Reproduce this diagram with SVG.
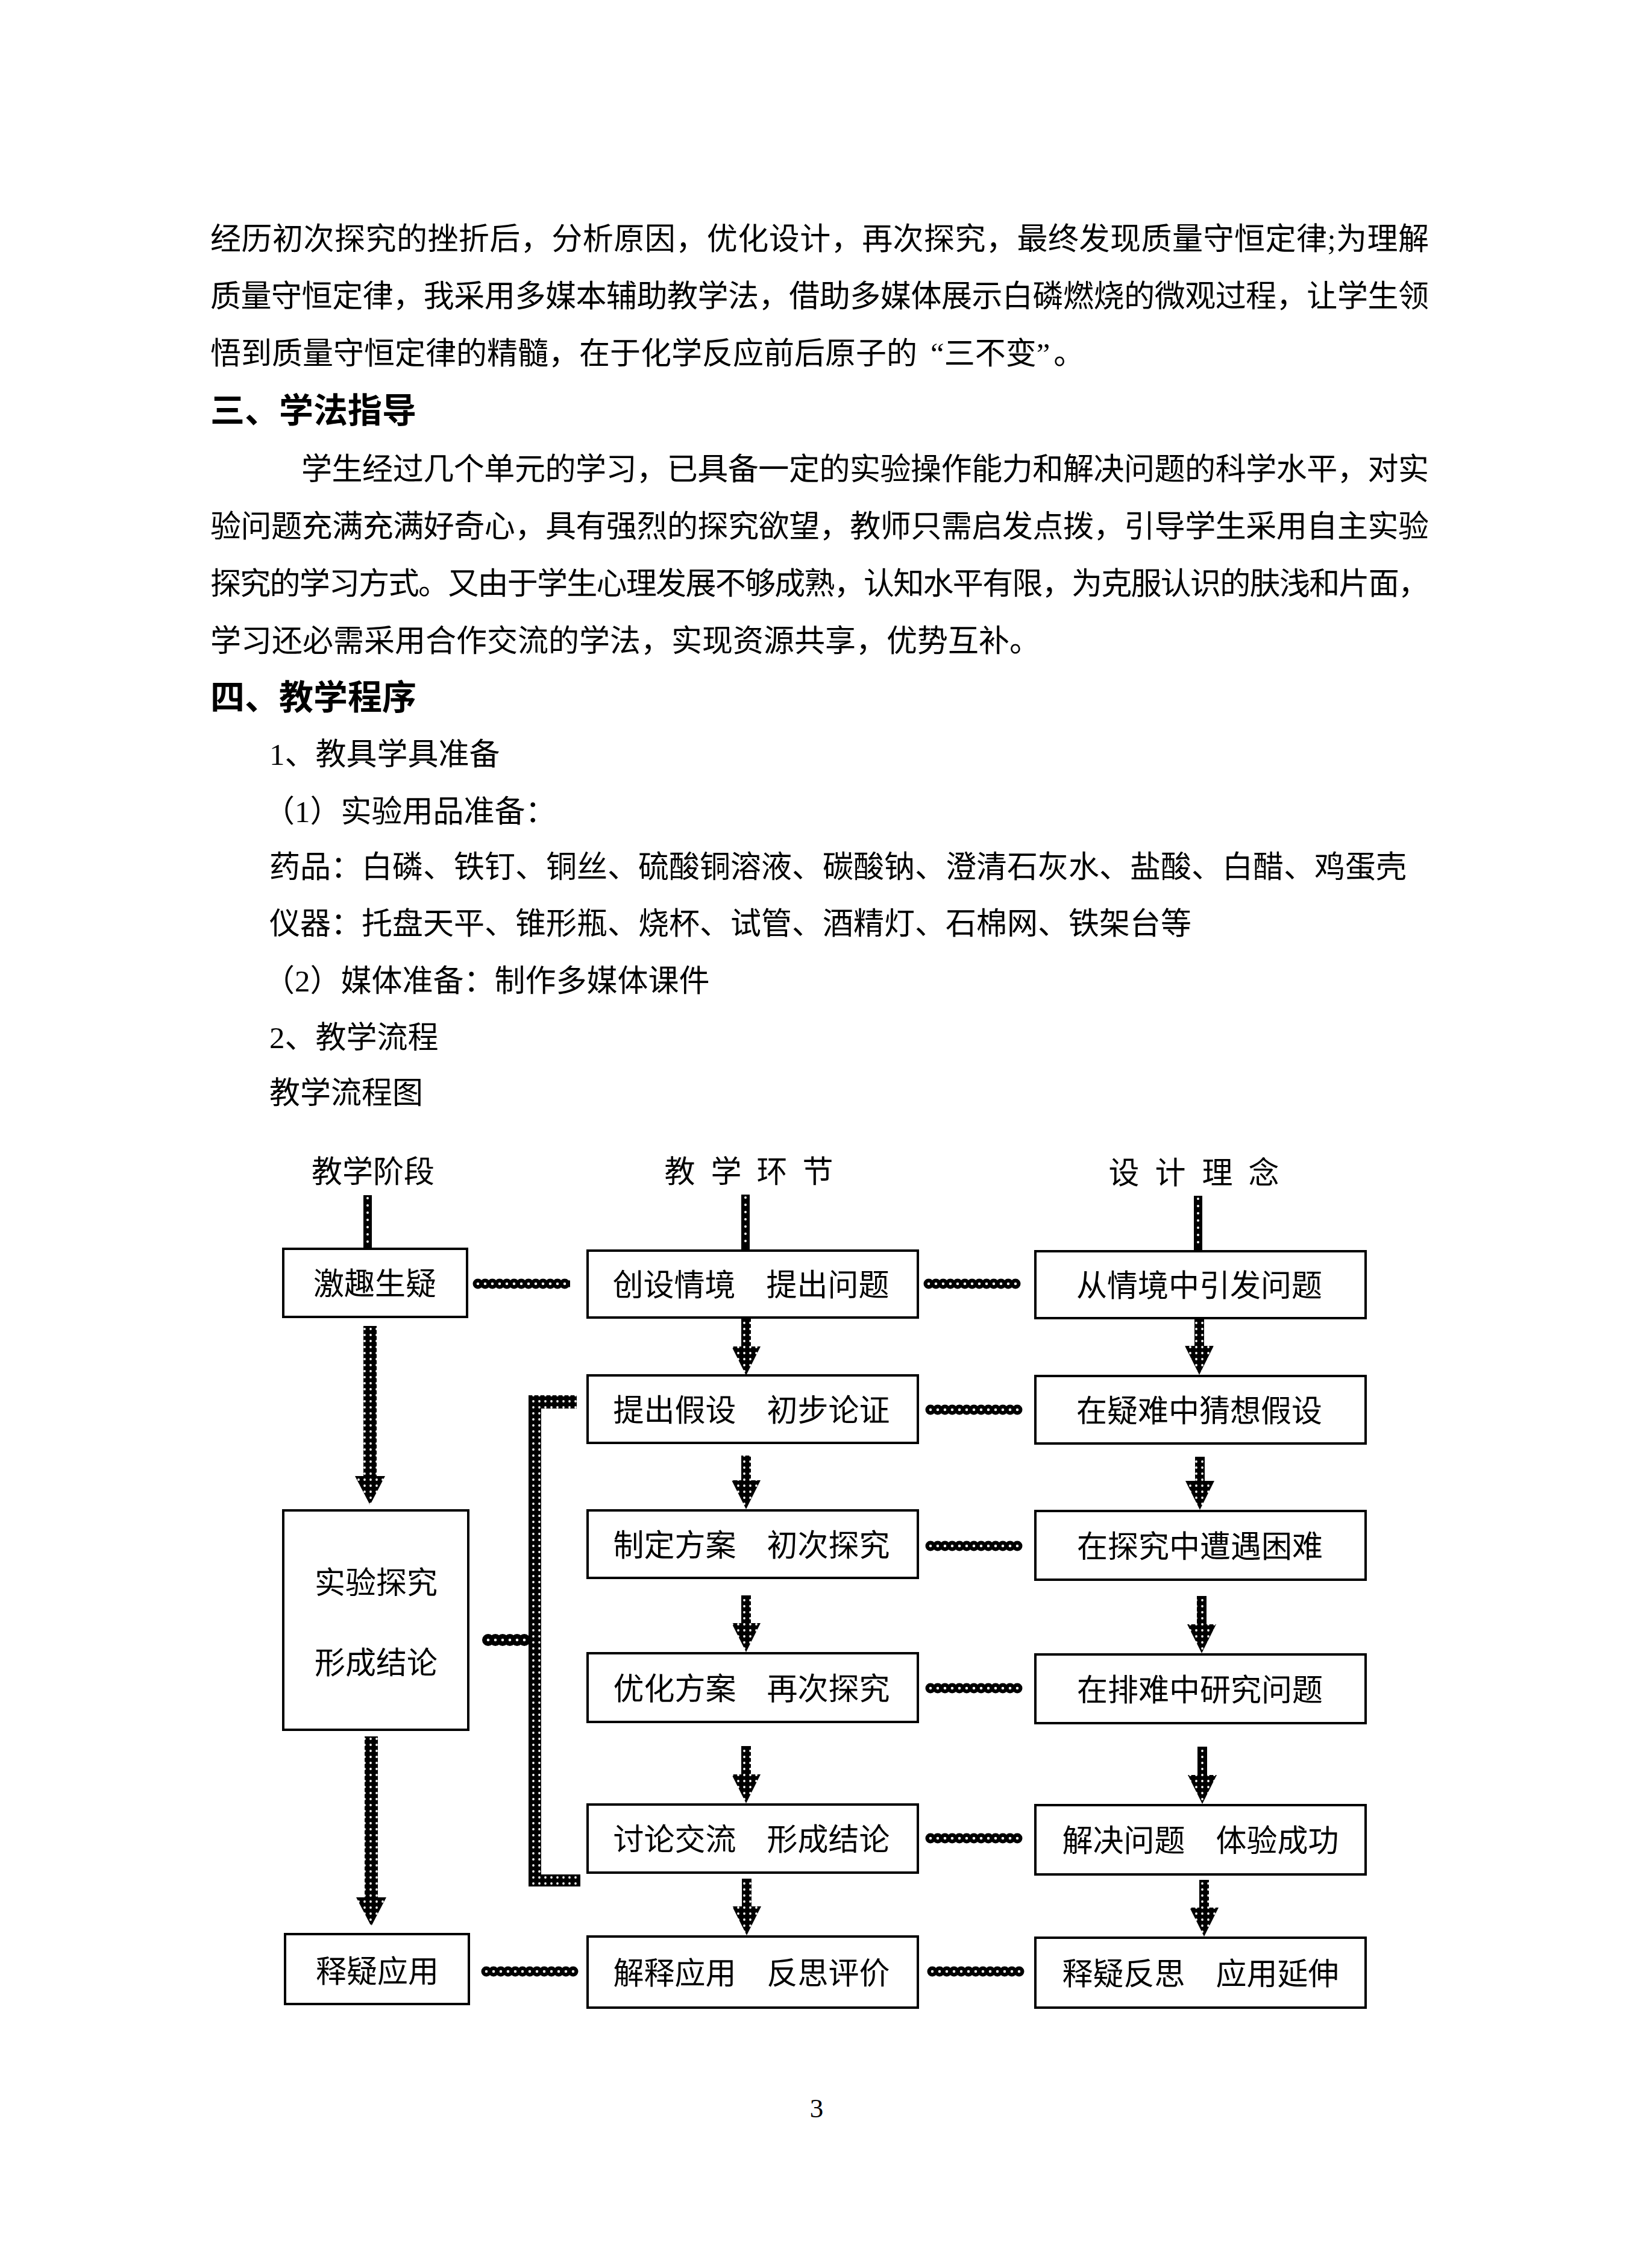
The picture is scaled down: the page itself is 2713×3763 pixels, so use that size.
<svg xmlns="http://www.w3.org/2000/svg" width="2713" height="3763" viewBox="0 0 2713 3763">
<style>
.b{font-family:"Liberation Serif","Noto Sans CJK SC",serif;font-size:51px;fill:#000}
.h{font-family:"Noto Sans CJK SC",sans-serif;font-size:57px;font-weight:bold;fill:#000}
.n{font-family:"Noto Sans CJK SC",sans-serif;font-size:51px;text-anchor:middle;fill:#000}
.pg{font-family:"Liberation Serif",serif;font-size:45px;text-anchor:middle;fill:#000}
.box{fill:#fff;stroke:#000;stroke-width:4}
.ck{stroke:#000;stroke-width:17;stroke-dasharray:0 12;stroke-linecap:round;fill:none}
.cb{stroke:#000;stroke-width:11;fill:none}
.cw{stroke:#fff;stroke-width:4.5;stroke-dasharray:0 12;stroke-linecap:round;fill:none}
.vk{stroke:#000;stroke-width:14;fill:none}
.vw{stroke:#fff;stroke-width:4;stroke-dasharray:0 12;stroke-linecap:round;fill:none}
.dot{fill:url(#dots)}
</style>
<defs>
<pattern id="dots" width="10" height="10" patternUnits="userSpaceOnUse">
<rect width="10" height="10" fill="#000"/>
<circle cx="5" cy="5" r="1.9" fill="#fff"/>
</pattern>
</defs>
<rect width="2713" height="3763" fill="#fff"/>

<g id="body-text">
<text class="b" x="349" y="414" textLength="2022">经历初次探究的挫折后，分析原因，优化设计，再次探究，最终发现质量守恒定律;为理解</text>
<text class="b" x="349" y="509" textLength="2022">质量守恒定律，我采用多媒本辅助教学法，借助多媒体展示白磷燃烧的微观过程，让学生领</text>
<text class="b" x="349" y="604">悟到质量守恒定律的精髓，在于化学反应前后原子的<tspan dx="22">“</tspan>三不变”<tspan dx="6">。</tspan></text>
<text class="h" x="349" y="701">三、学法指导</text>
<text class="b" x="500" y="796" textLength="1871">学生经过几个单元的学习，已具备一定的实验操作能力和解决问题的科学水平，对实</text>
<text class="b" x="349" y="891" textLength="2022">验问题充满充满好奇心，具有强烈的探究欲望，教师只需启发点拨，引导学生采用自主实验</text>
<text class="b" x="349" y="986" textLength="2022">探究的学习方式。又由于学生心理发展不够成熟，认知水平有限，为克服认识的肤浅和片面，</text>
<text class="b" x="349" y="1081">学习还必需采用合作交流的学法，实现资源共享，优势互补。</text>
<text class="h" x="349" y="1177">四、教学程序</text>
<text class="b" x="447" y="1269">1、教具学具准备</text>
<text class="b" x="438" y="1364">（1）实验用品准备：</text>
<text class="b" x="447" y="1456">药品：白磷、铁钉、铜丝、硫酸铜溶液、碳酸钠、澄清石灰水、盐酸、白醋、鸡蛋壳</text>
<text class="b" x="447" y="1550">仪器：托盘天平、锥形瓶、烧杯、试管、酒精灯、石棉网、铁架台等</text>
<text class="b" x="438" y="1645">（2）媒体准备：制作多媒体课件</text>
<text class="b" x="447" y="1739">2、教学流程</text>
<text class="b" x="447" y="1831">教学流程图</text>
<text class="pg" x="1355" y="3513">3</text>
</g>

<g id="headers">
<text class="n" x="619" y="1962">教学阶段</text>
<text class="n" x="1128 1205 1281 1357" y="1962">教学环节</text>
<text class="n" x="1865 1942 2020 2097" y="1964">设计理念</text>
</g>

<g id="connectors">
<!-- header chains -->
<line class="vk" x1="610" y1="1983" x2="610" y2="2070"/><line class="vw" x1="610" y1="1988" x2="610" y2="2066"/>
<line class="vk" x1="1237" y1="1982" x2="1237" y2="2073"/><line class="vw" x1="1237" y1="1987" x2="1237" y2="2069"/>
<line class="vk" x1="1988" y1="1984" x2="1988" y2="2074"/><line class="vw" x1="1988" y1="1989" x2="1988" y2="2070"/>
<!-- col1 arrows -->
<path class="dot" d="M603 2200V2449H589L614 2497L639 2449H625V2200Z"/>
<path class="dot" d="M605 2881V3148H591L616 3196L641 3148H627V2881Z"/>
<!-- col2 arrows -->
<path class="dot" d="M1230 2186V2234H1214L1238 2282L1262 2234H1246V2186Z"/>
<path class="dot" d="M1230 2415V2456H1214L1238 2504L1262 2456H1246V2415Z"/>
<path class="dot" d="M1230 2647V2693H1214L1238 2741L1262 2693H1246V2647Z"/>
<path class="dot" d="M1230 2897V2944H1214L1238 2992L1262 2944H1246V2897Z"/>
<path class="dot" d="M1231 3117V3163H1215L1239 3211L1263 3163H1247V3117Z"/>
<!-- col3 arrows -->
<path class="dot" d="M1982 2189V2233H1966L1990 2281L2014 2233H1998V2189Z"/>
<path class="dot" d="M1983 2417V2457H1967L1991 2505L2015 2457H1999V2417Z"/>
<path class="dot" d="M1986 2648V2695H1970L1994 2743L2018 2695H2002V2648Z"/>
<path class="dot" d="M1987 2898V2945H1971L1995 2993L2019 2945H2003V2898Z"/>
<path class="dot" d="M1990 3119V3165H1974L1998 3213L2022 3165H2006V3119Z"/>
<!-- horizontal chains -->
<g id="chain-1"><line class="cb" x1="792" y1="2130" x2="946" y2="2130"/><line class="ck" x1="793" y1="2130" x2="946" y2="2130"/><line class="cw" x1="793" y1="2130" x2="946" y2="2130"/></g>
<g id="chain-2"><line class="cb" x1="1540" y1="2130" x2="1691" y2="2130"/><line class="ck" x1="1541" y1="2130" x2="1691" y2="2130"/><line class="cw" x1="1541" y1="2130" x2="1691" y2="2130"/></g>
<g id="chain-3"><line class="cb" x1="1543" y1="2339" x2="1691" y2="2339"/><line class="ck" x1="1544" y1="2339" x2="1691" y2="2339"/><line class="cw" x1="1544" y1="2339" x2="1691" y2="2339"/></g>
<g id="chain-4"><line class="cb" x1="1543" y1="2565" x2="1691" y2="2565"/><line class="ck" x1="1544" y1="2565" x2="1691" y2="2565"/><line class="cw" x1="1544" y1="2565" x2="1691" y2="2565"/></g>
<g id="chain-5"><line class="cb" x1="1543" y1="2801" x2="1691" y2="2801"/><line class="ck" x1="1544" y1="2801" x2="1691" y2="2801"/><line class="cw" x1="1544" y1="2801" x2="1691" y2="2801"/></g>
<g id="chain-6"><line class="cb" x1="1543" y1="3050" x2="1691" y2="3050"/><line class="ck" x1="1544" y1="3050" x2="1691" y2="3050"/><line class="cw" x1="1544" y1="3050" x2="1691" y2="3050"/></g>
<g id="chain-7"><line class="cb" x1="806" y1="3271" x2="954" y2="3271"/><line class="ck" x1="807" y1="3271" x2="954" y2="3271"/><line class="cw" x1="807" y1="3271" x2="954" y2="3271"/></g>
<g id="chain-8"><line class="cb" x1="1546" y1="3271" x2="1694" y2="3271"/><line class="ck" x1="1547" y1="3271" x2="1694" y2="3271"/><line class="cw" x1="1547" y1="3271" x2="1694" y2="3271"/></g>
<!-- bracket -->
<path class="dot" d="M877 2315H957V2337H898V3110H963V3130H877Z"/>
<g id="chain-mid"><line class="cb" x1="809" y1="2721" x2="880" y2="2721" style="stroke-width:14"/><line class="ck" x1="810" y1="2721" x2="880" y2="2721" style="stroke-width:20"/><line class="cw" x1="810" y1="2721" x2="880" y2="2721"/></g>
</g>

<g id="n-jiqu"><rect class="box" x="470" y="2072" width="305" height="113"/><text class="n" x="622" y="2148">激趣生疑</text></g>
<g id="n-shiyan"><rect class="box" x="470" y="2506" width="307" height="364"/><text class="n" x="624" y="2644">实验探究</text><text class="n" x="624" y="2777">形成结论</text></g>
<g id="n-shiyi"><rect class="box" x="473" y="3209" width="305" height="116"/><text class="n" x="626" y="3289">释疑应用</text></g>

<g id="n-c1"><rect class="box" x="975" y="2075" width="548" height="111"/><text class="n" x="1246" y="2150">创设情境　提出问题</text></g>
<g id="n-c2"><rect class="box" x="975" y="2282" width="548" height="112"/><text class="n" x="1247" y="2358">提出假设　初步论证</text></g>
<g id="n-c3"><rect class="box" x="975" y="2506" width="548" height="112"/><text class="n" x="1247" y="2582">制定方案　初次探究</text></g>
<g id="n-c4"><rect class="box" x="975" y="2743" width="548" height="114"/><text class="n" x="1247" y="2820">优化方案　再次探究</text></g>
<g id="n-c5"><rect class="box" x="975" y="2994" width="548" height="113"/><text class="n" x="1247" y="3070">讨论交流　形成结论</text></g>
<g id="n-c6"><rect class="box" x="975" y="3213" width="548" height="118"/><text class="n" x="1247" y="3292">解释应用　反思评价</text></g>

<g id="n-d1"><rect class="box" x="1718" y="2076" width="548" height="111"/><text class="n" x="1990" y="2151">从情境中引发问题</text></g>
<g id="n-d2"><rect class="box" x="1718" y="2283" width="548" height="112"/><text class="n" x="1990" y="2359">在疑难中猜想假设</text></g>
<g id="n-d3"><rect class="box" x="1718" y="2507" width="548" height="114"/><text class="n" x="1991" y="2584">在探究中遭遇困难</text></g>
<g id="n-d4"><rect class="box" x="1718" y="2745" width="548" height="114"/><text class="n" x="1991" y="2822">在排难中研究问题</text></g>
<g id="n-d5"><rect class="box" x="1718" y="2995" width="548" height="115"/><text class="n" x="1992" y="3072">解决问题　体验成功</text></g>
<g id="n-d6"><rect class="box" x="1718" y="3215" width="548" height="116"/><text class="n" x="1992" y="3293">释疑反思　应用延伸</text></g>
</svg>
